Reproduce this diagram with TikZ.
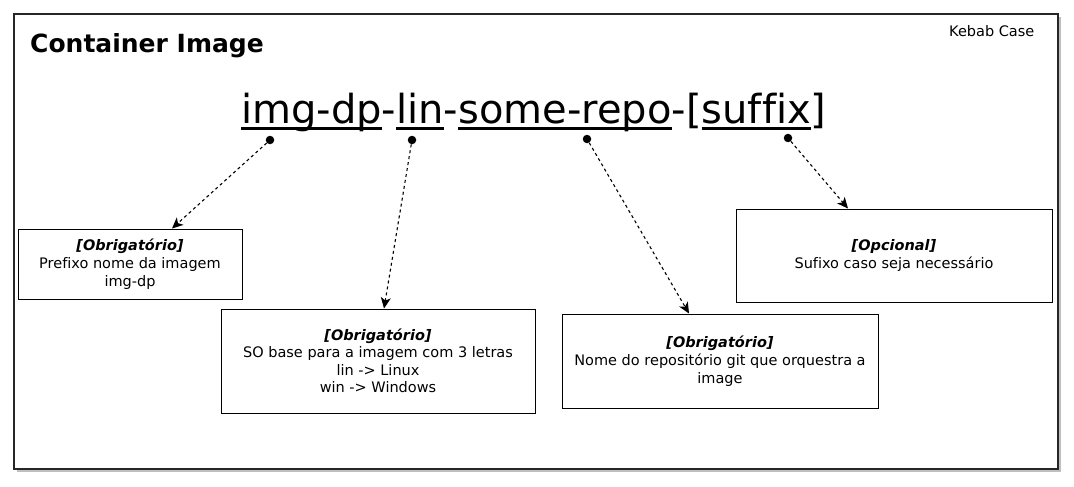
\documentclass[tikz,border=0pt]{standalone}
\usepackage{fontspec}
\setmainfont{DejaVu Sans}[Ligatures=NoCommon]
\usetikzlibrary{arrows.meta}

\newsavebox\segbox
\newcommand\ulseg[1]{\sbox\segbox{#1}\rlap{\rule[-6.5pt]{\wd\segbox}{2.2pt}}\usebox\segbox}

\begin{document}
\begin{tikzpicture}[x=1pt, y=-1pt,
 box/.style={rectangle, draw, line width=1pt, align=center, inner sep=0pt, font=\fontsize{14.5}{18}\selectfont},
 dot/.style={circle, fill, inner sep=0pt, minimum size=8.5pt},
 arr/.style={-{Stealth[length=11pt, width=10pt, inset=3pt]}, line width=1.1pt, dash pattern=on 3pt off 3pt},
]
\useasboundingbox (0,0) rectangle (1074,487);
% frame with shadow
\fill[black!25] (17,17) rectangle (1061,472);
\draw[line width=1.5pt, black!85, fill=white] (14,14) rectangle (1058,469);

\node[anchor=base west, inner sep=0pt, font=\fontsize{25}{30}\selectfont\bfseries] (title) at (30,53) {Container Image};
\node[anchor=base west, inner sep=0pt, font=\fontsize{14.5}{18}\selectfont] (kebab) at (949,37) {Kebab Case};
\node[anchor=base west, inner sep=0pt, font=\fontsize{40}{48}\selectfont] (name) at (241,123)
  {\ulseg{img-dp}-\ulseg{lin}-\ulseg{some-repo}-[\ulseg{suffix}]};

\node[dot] (dimg) at (270,140) {};
\node[dot] (dlin) at (412,140) {};
\node[dot] (drepo) at (587,139) {};
\node[dot] (dsuf) at (788,138) {};

\node[box, minimum width=224pt, minimum height=70pt] (pfx) at (130,264)
  {\textbf{\textit{[Obrigatório]}}\\Prefixo nome da imagem\\img-dp};
\node[box, minimum width=314pt, minimum height=104pt, font=\fontsize{14.5}{17.5}\selectfont] (os) at (378,361)
  {\textbf{\textit{[Obrigatório]}}\\SO base para a imagem com 3 letras\\lin -> Linux\\win -> Windows};
\node[box, minimum width=316pt, minimum height=94pt] (repo) at (720,361)
  {\textbf{\textit{[Obrigatório]}}\\Nome do repositório git que orquestra a\\image};
\node[box, minimum width=316pt, minimum height=93pt] (suf) at (894,255.5)
  {\textbf{\textit{[Opcional]}}\\Sufixo caso seja necessário};

\draw[arr] (dimg) -- ([xshift=42pt]pfx.north);
\draw[arr] (dlin) -- ([xshift=6pt]os.north);
\draw[arr] (drepo) -- ([xshift=-31pt]repo.north);
\draw[arr] (dsuf) -- ([xshift=-46pt]suf.north);
\end{tikzpicture}
\end{document}
